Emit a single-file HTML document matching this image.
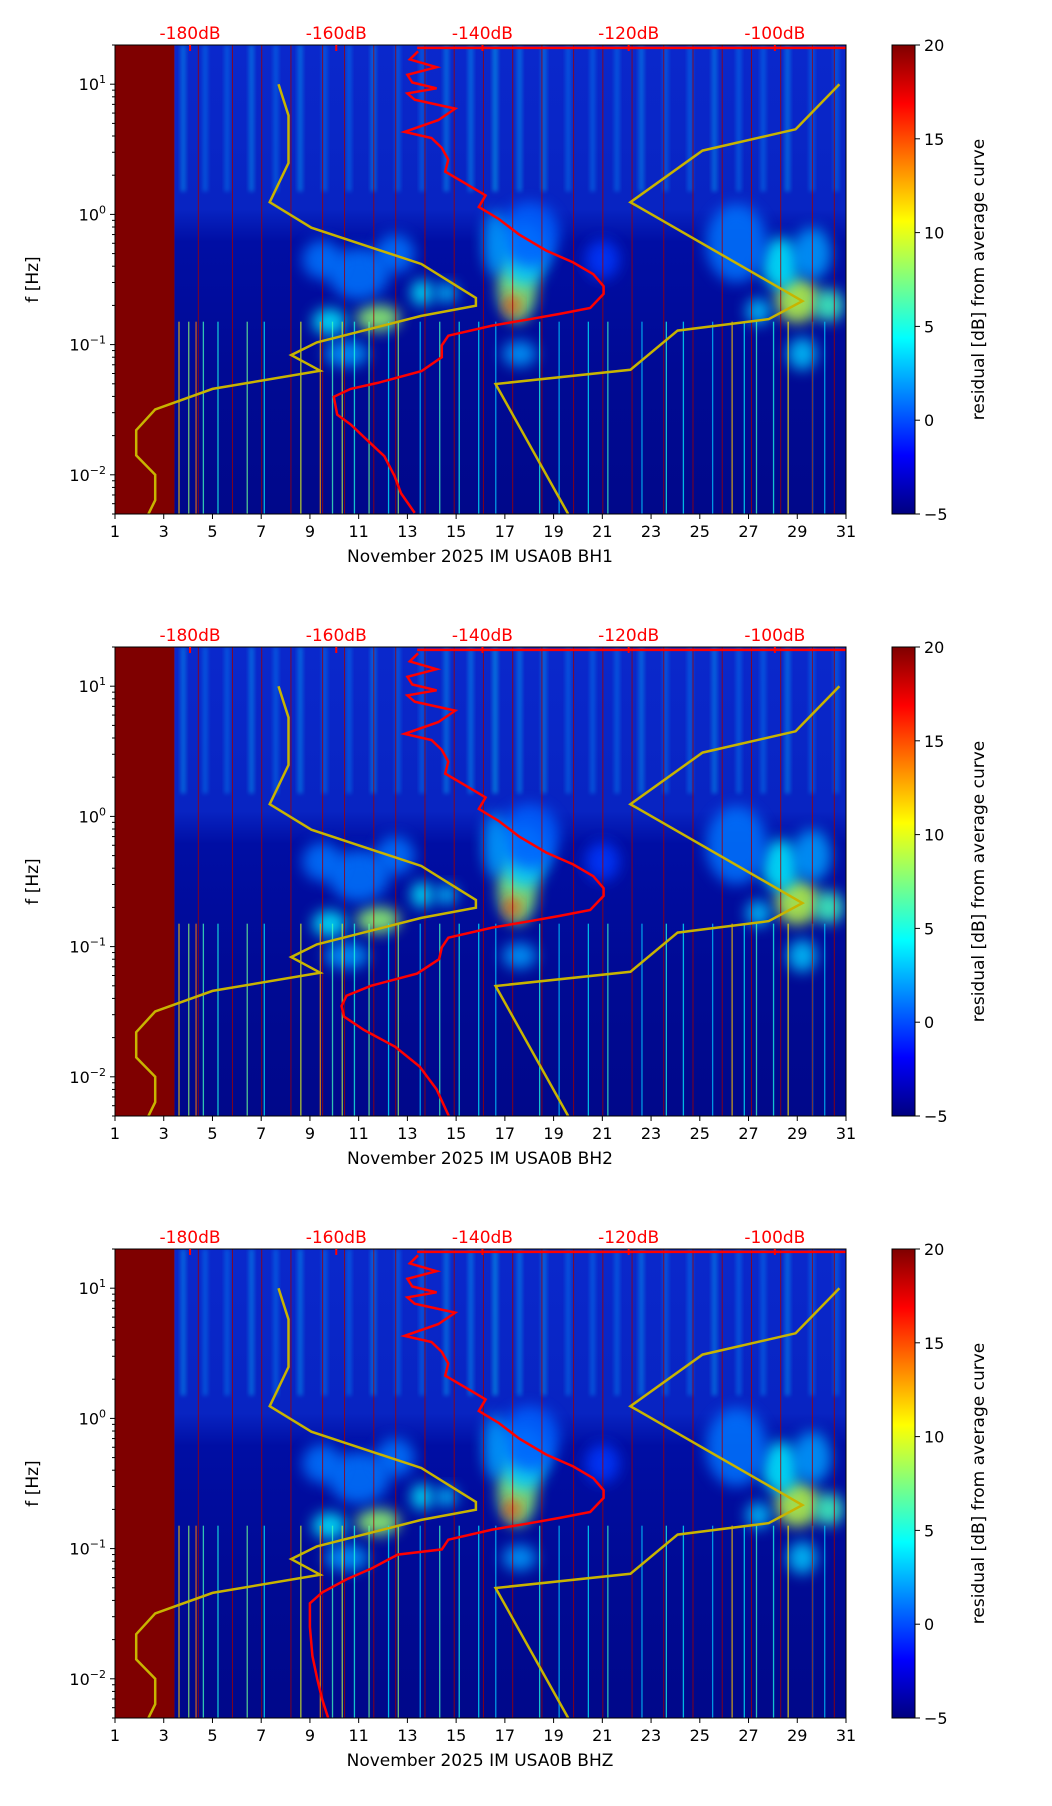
<!DOCTYPE html>
<html><head><meta charset="utf-8">
<style>
html,body{margin:0;padding:0;background:#fff;}
svg{display:block;font-family:"DejaVu Sans","Liberation Sans",sans-serif;}
</style></head>
<body>
<svg id="fig" width="1052" height="1806" viewBox="0 0 1052 1806" xmlns="http://www.w3.org/2000/svg">
<defs>
<filter id="blur" x="-50%" y="-50%" width="200%" height="200%"><feGaussianBlur stdDeviation="7"/></filter>
<filter id="blur2" x="-50%" y="-50%" width="200%" height="200%"><feGaussianBlur stdDeviation="2"/></filter>
<linearGradient id="jetgrad" x1="0" y1="1" x2="0" y2="0">
<stop offset="0" stop-color="#00007f"/><stop offset="0.125" stop-color="#0000ff"/>
<stop offset="0.375" stop-color="#00ffff"/><stop offset="0.625" stop-color="#ffff00"/>
<stop offset="0.875" stop-color="#ff0000"/><stop offset="1" stop-color="#7f0000"/>
</linearGradient>
<linearGradient id="bggrad" x1="0" y1="0" x2="0" y2="1">
<stop offset="0" stop-color="#0a28cc"/><stop offset="0.35" stop-color="#0824c2"/>
<stop offset="0.42" stop-color="#000ea4"/><stop offset="0.7" stop-color="#000a94"/>
<stop offset="1" stop-color="#00088a"/>
</linearGradient>
</defs>
</svg>
<script>
// ---- data ----
const panelNames = ["BH1","BH2","BH3"];
const panelLabels = ["November 2025 IM USA0B  BH1","November 2025 IM USA0B  BH2","November 2025 IM USA0B  BHZ"];
const xTicks = [1,3,5,7,9,11,13,15,17,19,21,23,25,27,29,31];
const yTickExp = [1,0,-1,-2];
const cbTicks = [20,15,10,5,0,-5];
const dbLabels = ["-180dB","-160dB","-140dB","-120dB","-100dB"];
const dbDays = [4.08,10.08,16.08,22.08,28.08];
// model curve (yellow), left branch
const yelLDays = [7.71,8.12,8.12,7.35,9.06,13.57,15.81,15.81,13.57,9.28,8.23,9.42,5.0,2.65,1.87,1.87,2.65,2.65,2.37];
const yelLFreq = [10,5.75,2.48,1.24,0.79,0.416,0.228,0.199,0.166,0.104,0.083,0.063,0.0457,0.0318,0.022,0.0141,0.01,0.00638,0.005];
// yellow right branch
const yelRDays = [30.73,28.93,25.11,22.15,29.21,27.83,24.09,22.15,16.62,19.6];
const yelRFreq = [10,4.5,3.09,1.24,0.216,0.157,0.128,0.064,0.0498,0.005];
// red mean curve upper part (common)
const redUpDays = [13.44,13.1,14.2,13.0,13.2,14.2,13.0,13.3,14.96,14.27,12.88,13.99,14.41,14.68,14.55,15.38,16.21,15.93,16.76,17.59,18.70,19.80,20.63,21.05,21.05,20.50,19.25,17.87,16.48,14.68,14.41];
const redUpFreq = [17.9,15.5,13.5,11.8,10.3,9.3,8.5,7.6,6.5,5.3,4.3,3.86,3.24,2.63,2.13,1.73,1.40,1.14,0.92,0.70,0.527,0.428,0.347,0.281,0.245,0.191,0.172,0.155,0.140,0.117,0.0986];
const redLowDays = [
 [14.41,13.58,11.78,10.67,9.98,10.12,10.67,11.36,12.05,12.47,12.74,13.30],
 [14.3,13.4,11.5,10.5,10.3,10.4,11.2,12.5,13.5,14.2,14.7],
 [12.6,11.5,10.5,9.5,9.0,9.0,9.1,9.3,9.5,9.75]
];
const redLowFreq = [
 [0.080,0.0626,0.0508,0.0457,0.0397,0.029,0.0244,0.0184,0.0139,0.0098,0.0072,0.0051],
 [0.080,0.062,0.05,0.042,0.035,0.029,0.023,0.017,0.012,0.008,0.005],
 [0.09,0.07,0.058,0.046,0.038,0.025,0.015,0.01,0.007,0.005]
];
// spectrogram blobs: day, freq, width(days), height(decades), residual dB
const blobDay  = [17.5,17.3,17.8,29.0,28.3,30.3,11.8,9.8,13.6,14.6,10.5,17.6,29.2,11.0,18.0,26.5,9.5,12.5,16.6,29.6,21.0,27.4];
const blobFreq = [0.28,0.2,0.5,0.22,0.42,0.2,0.16,0.15,0.25,0.25,0.085,0.085,0.085,0.35,0.7,0.6,0.45,0.5,0.6,0.5,0.45,0.18];
const blobW    = [1.6,0.6,2.0,1.8,1.6,1.2,1.8,1.4,0.9,0.9,1.8,1.4,1.2,2.5,2.5,2.5,1.6,1.6,1.0,1.6,1.4,1.0];
const blobH    = [0.55,0.15,0.5,0.35,0.4,0.25,0.2,0.2,0.2,0.15,0.2,0.2,0.25,0.4,0.5,0.6,0.3,0.3,0.5,0.4,0.3,0.2];
const blobVal  = [8,16,3,9,4,6,8,4,4,3,2,2,3,1,0.5,1,1,1,2,2,-0.5,3];
// vertical streak days (low-frequency transients) and value
const streakDays = [3.6,4.0,4.3,4.6,5.2,6.4,7.1,8.6,9.4,9.9,10.3,10.8,11.4,12.2,12.6,13.5,14.3,15.1,15.9,16.6,18.4,19.2,20.4,21.2,22.6,23.6,24.3,25.5,26.3,26.8,27.3,28.0,28.6,29.6,30.1];
const streakVal  = [12,8,14,6,5,7,4,10,13,6,9,5,7,4,8,3,6,5,4,3,5,3,4,6,3,5,4,3,12,4,6,5,11,4,3];
// high-frequency periodic bands (day of band)
const hfDays = [3.8,4.7,5.6,6.6,7.6,8.6,9.6,10.6,11.6,12.6,13.6,14.6,15.6,16.6,17.6,18.6,19.6,20.6,21.6,22.6,23.6,24.6,25.6,26.6,27.6,28.6,29.6,30.6];
const hfVal  = [3,2,2,3,2,3,2,2,3,2,2,3,3,4,3,3,2,2,2,3,2,2,3,2,2,3,2,2];
// thin dark red vertical lines (data gaps)
const gapDays = [3.4,4.4,5.8,7.0,8.2,9.5,10.4,11.6,12.5,13.7,14.9,16.1,17.3,18.5,19.8,21.0,22.2,23.5,24.7,25.9,27.1,28.3,29.6,30.5];

// ---- helpers ----
const NS="http://www.w3.org/2000/svg";
const svg=document.getElementById('fig');
const X0=115,X1=846,PH=469,LMAX=Math.log10(20),LMIN=Math.log10(0.005);
function xs(d){return X0+(d-1)/30*(X1-X0);}
function ysF(top){return f=>top+(LMAX-Math.log10(f))/(LMAX-LMIN)*PH;}
function jet(v){const t=Math.max(0,Math.min(1,(v+5)/25));const c=x=>Math.round(255*Math.max(0,Math.min(1,1.5-Math.abs(4*t-x))));return `rgb(${c(3)},${c(2)},${c(1)})`;}
function el(tag,attrs,parent){const e=document.createElementNS(NS,tag);for(const k in attrs)e.setAttribute(k,attrs[k]);(parent||svg).appendChild(e);return e;}
function txt(s,attrs,parent){const e=el('text',attrs,parent);e.textContent=s;return e;}

for(let p=0;p<3;p++){
  const top=45+602*p, bot=top+PH, ys=ysF(top);
  const g=el('g',{});
  
  
  const clipId='clip'+p;
  const cp=el('clipPath',{id:clipId},g);el('rect',{x:X0,y:top,width:X1-X0,height:PH},cp);
  const area=el('g',{'clip-path':`url(#${clipId})`},g);
  const bg=el('rect',{x:X0,y:top,width:X1-X0,height:PH,fill:'url(#bggrad)'},area);
  
  
  for(let i=0;i<hfDays.length;i++){
    const r=el('rect',{x:xs(hfDays[i])-2.5,y:ys(20),width:5,height:ys(1.5)-ys(20),fill:jet(hfVal[i]),opacity:0.4,filter:'url(#blur2)'},area);
    
    
  }
  for(let i=0;i<blobDay.length;i++){
    const cx=xs(blobDay[i]),cy=ys(blobFreq[i]);
    const rx=(xs(blobDay[i]+blobW[i]/2)-xs(blobDay[i]-blobW[i]/2))/2;
    const ry=blobH[i]*PH/(LMAX-LMIN)/2;
    const e=el('ellipse',{cx:cx,cy:cy,rx:rx,ry:ry,fill:jet(blobVal[i]),opacity:0.85,filter:'url(#blur)'},area);
    
    
  }
  for(let i=0;i<streakDays.length;i++){
    const r=el('rect',{x:xs(streakDays[i]),y:ys(0.15),width:1.3,height:bot-ys(0.15),fill:jet(streakVal[i]),opacity:0.75},area);
    
    
  }
  for(let i=0;i<gapDays.length;i++){
    const r=el('rect',{x:xs(gapDays[i]),y:top,width:1,height:PH,fill:'#a00000',opacity:0.8},area);
    
    
  }
  const blk=el('rect',{x:X0,y:top,width:xs(3.42)-X0,height:PH,fill:'#7f0000'},area);
  
  
  const mk=(ds,fs)=>ds.map((d,i)=>xs(d).toFixed(1)+','+ys(fs[i]).toFixed(1)).join(' ');
  const yl=el('polyline',{points:mk(yelLDays,yelLFreq),fill:'none',stroke:'#c8b400',"stroke-width":2.5},area);
  
  
  const yr=el('polyline',{points:mk(yelRDays,yelRFreq),fill:'none',stroke:'#c8b400',"stroke-width":2.5},area);
  
  
  const rd=redUpDays.concat(redLowDays[p]), rf=redUpFreq.concat(redLowFreq[p]);
  const rl=el('polyline',{points:mk(rd,rf),fill:'none',stroke:'#ff0000',"stroke-width":2.5},area);
  
  
  const rt=el('line',{x1:xs(13.4),y1:ys(19),x2:X1,y2:ys(19),stroke:'#ff0000',"stroke-width":2.5},area);
  
  
  el('rect',{x:X0,y:top,width:X1-X0,height:PH,fill:'none',stroke:'#000',"stroke-width":1},g);
  xTicks.forEach(d=>{
    el('line',{x1:xs(d),y1:bot,x2:xs(d),y2:bot+5,stroke:'#000'},g);
    const t=txt(String(d),{x:xs(d),y:bot+23,"font-size":16,"text-anchor":"middle",fill:'#000'},g);
    
    
  });
  const xl=txt(panelLabels[p],{x:480,y:bot+48,"font-size":17,"text-anchor":"middle",fill:'#000'},g);
  
  
  yTickExp.forEach(e=>{
    const y=ys(Math.pow(10,e));
    el('line',{x1:X0-5,y1:y,x2:X0,y2:y,stroke:'#000'},g);
    const t=el('text',{x:X0-9,y:y+6,"font-size":16,"text-anchor":"end",fill:'#000'},g);
    
    
    t.innerHTML=`10<tspan dy="-7" font-size="11">${e<0?'\u2212'+(-e):e}</tspan>`;
  });
  for(let e=-3;e<=1;e++)for(let m=2;m<=9;m++){const f=m*Math.pow(10,e);if(f<0.005||f>20)continue;const y=ys(f);el('line',{x1:X0-3,y1:y,x2:X0,y2:y,stroke:'#000'},g);}
  const yl2=txt('f [Hz]',{x:0,y:0,"font-size":17,"text-anchor":"middle",fill:'#000',transform:`translate(38,${top+PH/2}) rotate(-90)`},g);
  
  
  dbLabels.forEach((s,i)=>{
    el('line',{x1:xs(dbDays[i]),y1:top,x2:xs(dbDays[i]),y2:top+6,stroke:'#ff0000',"stroke-width":2},g);
    const t=txt(s,{x:xs(dbDays[i]),y:top-6,"font-size":17,"text-anchor":"middle",fill:'#ff0000'},g);
    
    
  });
  const cb=el('rect',{x:892,y:top,width:23,height:PH,fill:'url(#jetgrad)',stroke:'#000',"stroke-width":1},g);
  
  
  cbTicks.forEach(v=>{
    const y=top+(20-v)/25*PH;
    el('line',{x1:915,y1:y,x2:920,y2:y,stroke:'#000'},g);
    const t=txt(v<0?'\u2212'+(-v):String(v),{x:924,y:y+6,"font-size":16,fill:'#000'},g);
    
    
  });
  const cl=txt('residual [dB] from average curve',{x:0,y:0,"font-size":17,"text-anchor":"middle",fill:'#000',transform:`translate(984,${top+PH/2}) rotate(-90)`},g);
  
  
}
</script>
</body></html>
